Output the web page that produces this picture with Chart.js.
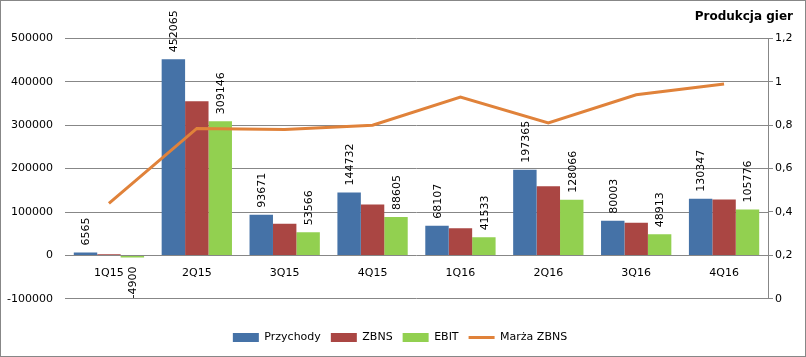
<!DOCTYPE html>
<html>
<head>
<meta charset="utf-8">
<script src="https://cdn.jsdelivr.net/npm/chart.js@4/dist/chart.umd.min.js"></script>
<style>
html,body{margin:0;padding:0;background:#fff;}
#wrap{width:806px;height:357px;}
</style>
</head>
<body>
<div id="wrap"><canvas id="c" width="806" height="357"></canvas></div>
<script>
const categories = ['1Q15','2Q15','3Q15','4Q15','1Q16','2Q16','3Q16','4Q16'];
const przychody = [6565, 452065, 93671, 144732, 68107, 197365, 80003, 130347];
const zbns = [2900, 355000, 73000, 117000, 62500, 159500, 75000, 129000];
const ebit = [-4900, 309146, 53566, 88605, 41533, 128066, 48913, 105776];
const marza = [0.44, 0.785, 0.78, 0.80, 0.93, 0.81, 0.94, 0.99];
const leftTicks = [-100000, 0, 100000, 200000, 300000, 400000, 500000];
const rightTicks = ['0', '0,2', '0,4', '0,6', '0,8', '1', '1,2'];
const titleText = 'Produkcja gier';

const GRID = '#878787';
Chart.defaults.font.family = '"DejaVu Sans", sans-serif';
Chart.defaults.font.size = 11;
Chart.defaults.color = '#000';

const bgBorder = {
  id: 'bgBorder',
  beforeDraw(chart) {
    const c = chart.ctx;
    c.save();
    c.fillStyle = '#fff';
    c.fillRect(0, 0, chart.width, chart.height);
    c.restore();
  },
  afterDraw(chart) {
    const c = chart.ctx;
    c.save();
    c.strokeStyle = GRID;
    c.lineWidth = 1;
    c.strokeRect(0.5, 0.5, chart.width - 1, chart.height - 1);
    c.restore();
  }
};

const barLabels = {
  id: 'barLabels',
  afterDatasetsDraw(chart) {
    const c = chart.ctx;
    c.save();
    c.font = '11px "DejaVu Sans"';
    c.fillStyle = '#000';
    c.textBaseline = 'middle';
    [0, 2].forEach(di => {
      const meta = chart.getDatasetMeta(di);
      const vals = chart.data.datasets[di].data;
      meta.data.forEach((bar, i) => {
        const v = vals[i];
        c.save();
        if (v >= 0) {
          c.translate(bar.x + 1, bar.y - 7);
          c.rotate(-Math.PI / 2);
          c.textAlign = 'left';
        } else {
          c.translate(bar.x + 1, bar.y + 9);
          c.rotate(-Math.PI / 2);
          c.textAlign = 'right';
        }
        c.fillText(String(v), 0, 0);
        c.restore();
      });
    });
    c.restore();
  }
};

new Chart(document.getElementById('c'), {
  type: 'bar',
  data: {
    labels: categories,
    datasets: [
      { label: 'Przychody', data: przychody, backgroundColor: '#4572A7', yAxisID: 'y', order: 1,
        barPercentage: 1, categoryPercentage: 0.8 },
      { label: 'ZBNS', data: zbns, backgroundColor: '#AA4643', yAxisID: 'y', order: 1,
        barPercentage: 1, categoryPercentage: 0.8 },
      { label: 'EBIT', data: ebit, backgroundColor: '#92D050', yAxisID: 'y', order: 1,
        barPercentage: 1, categoryPercentage: 0.8 },
      { type: 'line', label: 'Marża ZBNS', data: marza, borderColor: '#E0823A', backgroundColor: '#E0823A',
        borderWidth: 3, pointRadius: 0, tension: 0, yAxisID: 'y1', order: 0 }
    ]
  },
  options: {
    responsive: false,
    animation: false,
    devicePixelRatio: 1,
    layout: { padding: { left: 7, right: 13, top: 3, bottom: 4 } },
    plugins: {
      tooltip: { enabled: false },
      title: {
        display: true, text: titleText, align: 'end',
        font: { size: 12, weight: 'bold' }, color: '#000',
        padding: { top: 7, bottom: 14 }
      },
      legend: {
        position: 'bottom',
        title: { display: true, text: ' ', font: { size: 1 }, padding: { top: 0, bottom: 22 } },
        labels: {
          usePointStyle: true,
          pointStyleWidth: 26,
          boxHeight: 9,
          padding: 10,
          color: '#000',
          generateLabels(chart) {
            const items = Chart.defaults.plugins.legend.labels.generateLabels(chart);
            items.sort((a, b) => a.datasetIndex - b.datasetIndex);
            items.forEach(it => {
              if (it.datasetIndex === 3) {
                it.pointStyle = 'line';
                it.strokeStyle = '#E0823A';
                it.lineWidth = 3;
              } else {
                it.pointStyle = 'rect';
                it.lineWidth = 0;
              }
            });
            return items;
          }
        }
      }
    },
    scales: {
      x: {
        position: { y: 0 },
        grid: { display: false, drawTicks: false },
        border: { display: false },
        ticks: { padding: 11, color: '#000' }
      },
      y: {
        position: 'left',
        min: leftTicks[0], max: leftTicks[leftTicks.length - 1],
        afterBuildTicks(scale) { scale.ticks = leftTicks.map(v => ({ value: v })); },
        afterFit(scale) { scale.width = 58; },
        grid: { color: GRID, drawTicks: false },
        border: { display: false },
        ticks: { padding: 12, color: '#000', callback: v => String(v) }
      },
      y1: {
        position: 'right',
        min: 0, max: 1.2,
        afterBuildTicks(scale) { scale.ticks = rightTicks.map((t, i) => ({ value: i * 0.2 })); },
        afterFit(scale) { scale.width = 25; },
        grid: { drawOnChartArea: false, color: GRID, tickLength: 5 },
        border: { display: true, color: GRID },
        ticks: { padding: 2, color: '#000', callback: (v, i) => rightTicks[i] }
      }
    }
  },
  plugins: [bgBorder, barLabels]
});
</script>
</body>
</html>
